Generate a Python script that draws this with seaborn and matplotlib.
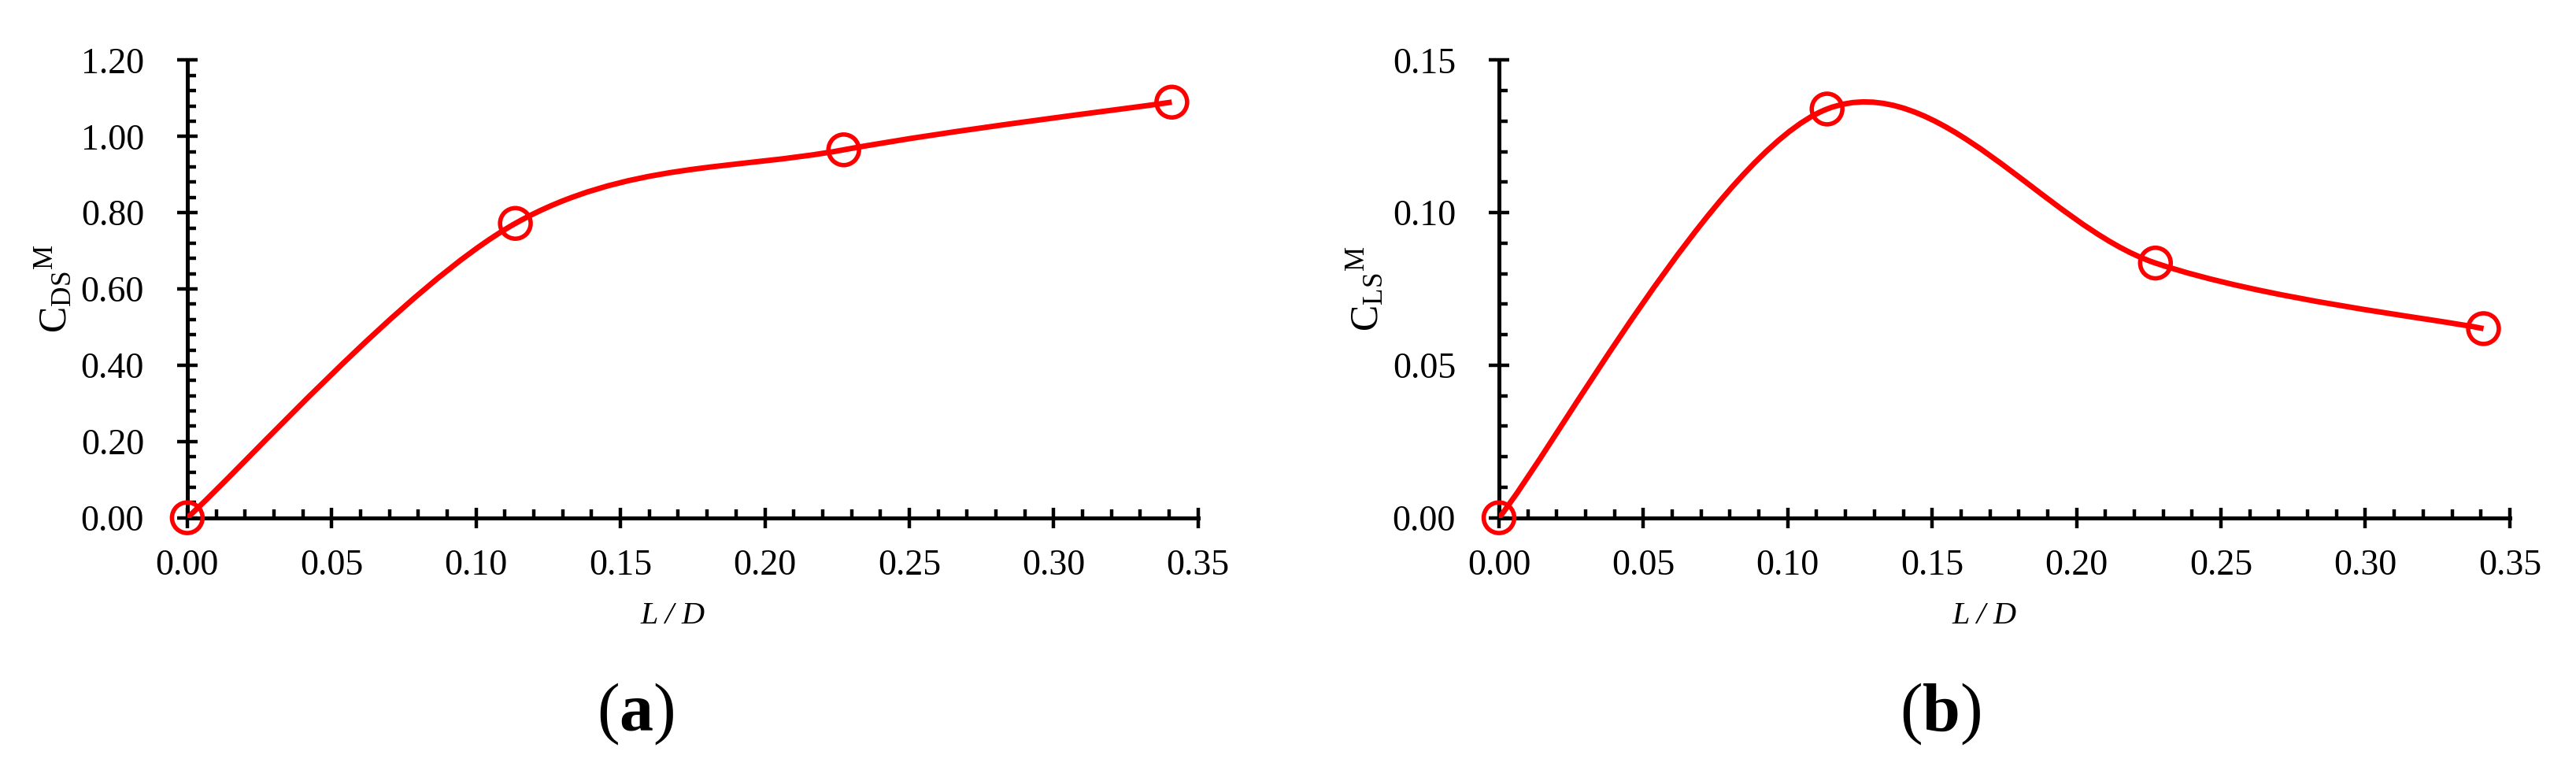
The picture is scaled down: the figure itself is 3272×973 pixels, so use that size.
import numpy as np
import matplotlib
matplotlib.use("Agg")
import matplotlib.pyplot as plt
from matplotlib.path import Path
from matplotlib.patches import PathPatch
from matplotlib.ticker import MultipleLocator, FormatStrFormatter
import seaborn as sns

# L/D values and the two moment coefficients
ld = [0.0, 0.1136, 0.2273, 0.3409]
cds_m = [0.0, 0.772, 0.965, 1.090]
cls_m = [0.0, 0.134, 0.0835, 0.062]

sns.set_style("ticks")
plt.rcParams["font.family"] = ["Liberation Serif", "DejaVu Serif"]
plt.rcParams["mathtext.fontset"] = "custom"
plt.rcParams["mathtext.rm"] = "Liberation Serif"
plt.rcParams["mathtext.it"] = "Liberation Serif:italic"
plt.rcParams["mathtext.bf"] = "Liberation Serif:bold"
for k in ["axes.edgecolor", "xtick.color", "ytick.color", "text.color", "axes.labelcolor"]:
    plt.rcParams[k] = "black"


def smooth_path(xs, ys):
    # excel style smoothed line (bezier through the points)
    pts = np.column_stack([xs, ys])
    n = len(pts)
    verts = [pts[0]]
    codes = [Path.MOVETO]
    for i in range(n - 1):
        p0 = pts[max(i - 1, 0)]
        p1 = pts[i]
        p2 = pts[i + 1]
        p3 = pts[min(i + 2, n - 1)]
        verts += [p1 + (p2 - p0) / 6, p2 - (p3 - p1) / 6, p2]
        codes += [Path.CURVE4] * 3
    return Path(verts, codes)


def panel(ax, y, ymax, ymajor, yminor, ylabel):
    ax.add_patch(PathPatch(smooth_path(ld, y), fill=False, edgecolor="red",
                           lw=5.0, zorder=3))
    sns.scatterplot(x=ld, y=y, ax=ax, marker="o", s=28 ** 2, zorder=4, clip_on=False)
    pts = ax.collections[-1]
    pts.set_facecolor("none")
    pts.set_edgecolor("red")
    pts.set_linewidth(4.0)

    ax.set_xlim(0, 0.35)
    ax.set_ylim(0, ymax)
    ax.xaxis.set_major_locator(MultipleLocator(0.05))
    ax.xaxis.set_minor_locator(MultipleLocator(0.01))
    ax.yaxis.set_major_locator(MultipleLocator(ymajor))
    ax.yaxis.set_minor_locator(MultipleLocator(yminor))
    ax.xaxis.set_major_formatter(FormatStrFormatter("%.2f"))
    ax.yaxis.set_major_formatter(FormatStrFormatter("%.2f"))

    sns.despine(ax=ax)
    for s in ["left", "bottom"]:
        ax.spines[s].set_linewidth(3.6)
    ax.tick_params(which="major", direction="inout", length=19, width=3.2, labelsize=33)
    ax.tick_params(which="minor", direction="in", length=8, width=3.2)
    ax.tick_params(axis="x", which="major", pad=19)
    ax.tick_params(axis="y", which="major", pad=30)

    ax.set_ylabel(ylabel, fontsize=36, va="center")
    ax.yaxis.set_label_coords(-0.131, 0.5)
    ax.set_xlabel("L / D", fontsize=29, fontstyle="italic", va="center")
    ax.xaxis.set_label_coords(0.48, -0.2156)


fig = plt.figure(figsize=(32.72, 9.73), dpi=100)
ax1 = fig.add_axes([0.0727, 0.3241, 0.3924, 0.5973])
ax2 = fig.add_axes([0.5819, 0.3241, 0.3924, 0.5973])

panel(ax1, cds_m, 1.2, 0.2, 0.04, r"$\mathrm{C}_{\mathrm{DS}}{}^{\mathrm{M}}$")
panel(ax2, cls_m, 0.15, 0.05, 0.01, r"$\mathrm{C}_{\mathrm{LS}}{}^{\mathrm{M}}$")

fig.text(0.2466, 0.0678, r"($\mathbf{a}$)", fontsize=62, ha="center", va="center")
fig.text(0.7534, 0.0678, r"($\mathbf{b}$)", fontsize=62, ha="center", va="center")

fig.savefig("out.png", dpi=100, facecolor="white")
